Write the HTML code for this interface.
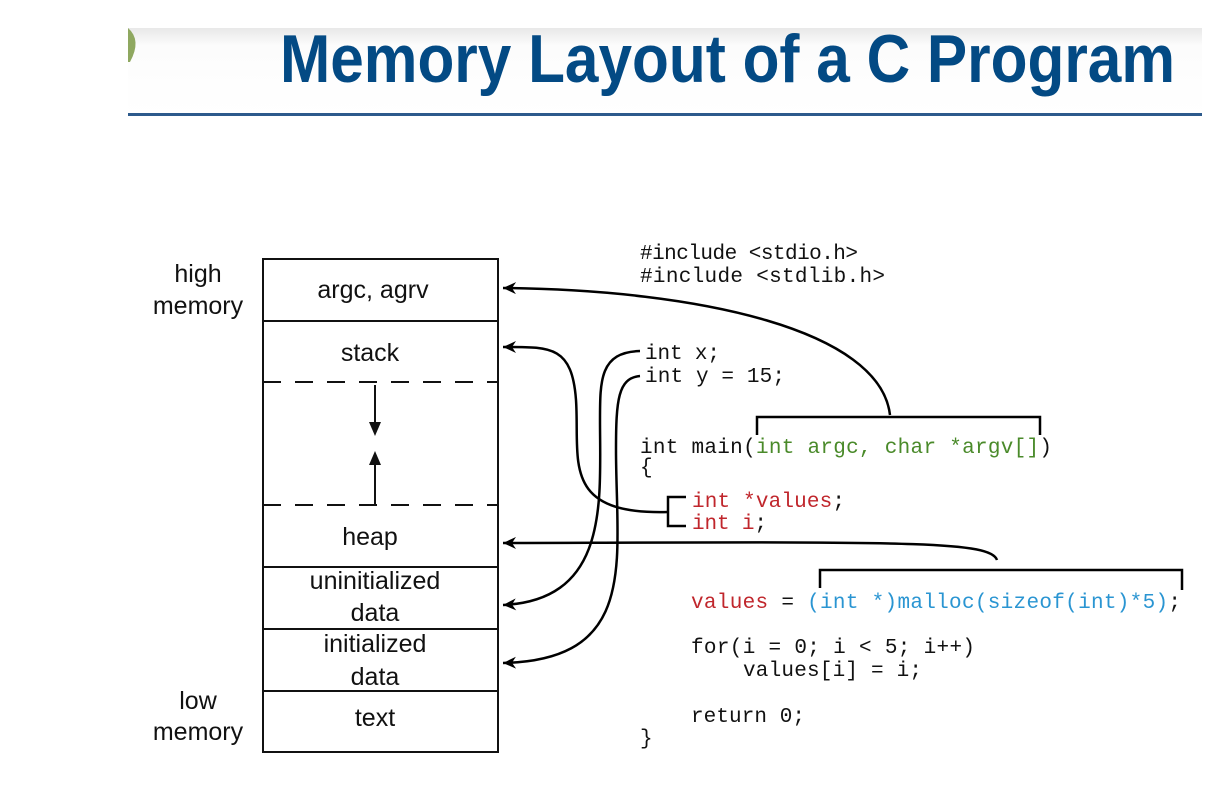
<!DOCTYPE html>
<html><head><style>
html,body{margin:0;padding:0;background:#fff;}
svg{display:block;}
</style></head><body>
<svg width="1226" height="810" viewBox="0 0 1226 810" xmlns="http://www.w3.org/2000/svg">
<defs>
<linearGradient id="hg" x1="0" y1="0" x2="0" y2="1">
<stop offset="0" stop-color="#e8e8e8"/><stop offset="0.2" stop-color="#fcfcfc"/><stop offset="1" stop-color="#ffffff"/>
</linearGradient>
<marker id="ah" markerWidth="14" markerHeight="12" refX="13" refY="6" orient="auto" markerUnits="userSpaceOnUse">
<path d="M0,0 L13,6 L0,12 L4,6 Z" fill="#000"/>
</marker>
</defs>
<rect x="128" y="28" width="1074" height="88" fill="url(#hg)"/>
<path d="M128,28 Q142,40 130,62 L128,62 Z" fill="#8fa860"/>
<rect x="128" y="113" width="1074" height="3" fill="#2d5a8c"/>
<text x="280" y="82" font-family="Liberation Sans, sans-serif" font-weight="bold" font-size="68" fill="#034a84" textLength="895" lengthAdjust="spacingAndGlyphs">Memory Layout of a C Program</text>

<g stroke="#111" stroke-width="2" fill="none">
<rect x="263" y="259" width="235" height="493"/>
<line x1="263" y1="321" x2="498" y2="321"/>
<line x1="263" y1="567" x2="498" y2="567"/>
<line x1="263" y1="629" x2="498" y2="629"/>
<line x1="263" y1="691" x2="498" y2="691"/>
<line x1="263" y1="382" x2="498" y2="382" stroke-dasharray="18,14"/>
<line x1="263" y1="505" x2="498" y2="505" stroke-dasharray="18,14"/>
<line x1="375" y1="385" x2="375" y2="425"/>
<line x1="375" y1="505" x2="375" y2="462"/>
</g>
<path d="M369,422 L375,436 L381,422 Z" fill="#111"/>
<path d="M369,465 L375,451 L381,465 Z" fill="#111"/>

<g font-family="Liberation Sans, sans-serif" font-size="25" fill="#111" text-anchor="middle">
<text x="198" y="282">high</text>
<text x="198" y="314">memory</text>
<text x="198" y="709">low</text>
<text x="198" y="740">memory</text>
<text x="373" y="298">argc, agrv</text>
<text x="370" y="361">stack</text>
<text x="370" y="545">heap</text>
<text x="375" y="589">uninitialized</text>
<text x="375" y="621">data</text>
<text x="375" y="652">initialized</text>
<text x="375" y="685">data</text>
<text x="375" y="726">text</text>
</g>

<g stroke="#000" stroke-width="2.5" fill="none">
<path d="M890,415 C880,330 700,290 503,288" marker-end="url(#ah)"/>
<path d="M757,435 L757,417 L1040,417 L1040,435"/>
<path d="M668,512 C560,515 580,460 576,400 C572,345 550,347 503,347" marker-end="url(#ah)"/>
<path d="M686,497 L668,497 L668,526 L686,526"/>
<path d="M640,351 C600,352 600,380 600,420 C600,500 610,600 503,605" marker-end="url(#ah)"/>
<path d="M640,376 C618,378 616,400 616,450 C616,560 640,660 503,663" marker-end="url(#ah)"/>
<path d="M997,560 C990,540 900,542 503,543" marker-end="url(#ah)"/>
<path d="M820,588 L820,570 L1182,570 L1182,590"/>
</g>

<g font-family="Liberation Mono, monospace" font-size="21" fill="#111" lengthAdjust="spacingAndGlyphs">
<text x="640" y="259" textLength="218">#include &lt;stdio.h&gt;</text>
<text x="640" y="282" textLength="245">#include &lt;stdlib.h&gt;</text>
<text x="645" y="359" textLength="75">int x;</text>
<text x="645" y="382" textLength="140">int y = 15;</text>
<text x="640" y="453" textLength="412">int main(<tspan fill="#4a8a2a">int argc, char *argv[]</tspan>)</text>
<text x="640" y="473">{</text>
<text x="692" y="507" textLength="153"><tspan fill="#c0262c">int *values</tspan>;</text>
<text x="692" y="529" textLength="75"><tspan fill="#c0262c">int i</tspan>;</text>
<text x="691" y="608" textLength="490"><tspan fill="#c0262c">values</tspan> = <tspan fill="#2a95d2">(int *)malloc(sizeof(int)*5)</tspan>;</text>
<text x="691" y="653" textLength="284">for(i = 0; i &lt; 5; i++)</text>
<text x="743" y="676" textLength="179">values[i] = i;</text>
<text x="691" y="722" textLength="114">return 0;</text>
<text x="640" y="744">}</text>
</g>
</svg>
</body></html>
